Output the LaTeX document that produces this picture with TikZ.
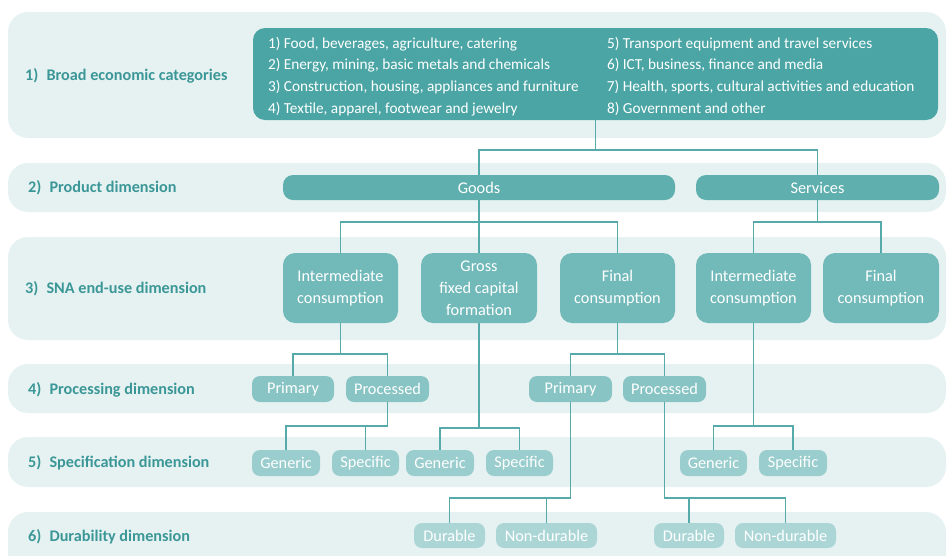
\documentclass[tikz,border=0pt]{standalone}
\usepackage{fontspec}
\setmainfont{Carlito}
\usepackage{xcolor}

\definecolor{bandbg}{HTML}{E6F2F2}
\definecolor{labtext}{HTML}{3B9797}
\definecolor{linecol}{HTML}{56AAAA}
\definecolor{tealA}{HTML}{4BA5A5}
\definecolor{tealB}{HTML}{5FAFAF}
\definecolor{tealC}{HTML}{72B9B9}
\definecolor{tealD}{HTML}{88C4C4}
\definecolor{tealE}{HTML}{9ACDCD}
\definecolor{tealF}{HTML}{ACD6D6}

% parent, y of the bar, list of children
\newcommand{\treefork}[3]{%
  \foreach \kid in {#3}
    \draw[edge] (#1.south) |- (\kid.north |- 0,#2) -- (\kid.north);}

\begin{document}
\begin{tikzpicture}[x=1pt,y=-1pt]
        \tikzset{band/.style={fill=bandbg, rounded corners=20pt},
            dimlabel/.style={anchor=west, inner sep=0pt, text=labtext, font=\fontsize{16.2}{18}\selectfont\bfseries},
            box/.style={text=white, inner sep=0pt, align=center,
                font=\fontsize{16.3}{21.8}\selectfont},
            top/.style={box, fill=tealA, rounded corners=12pt, minimum width=685pt, minimum height=92pt,
                font=\fontsize{15.3}{21.7}\selectfont},
            kind/.style={box, fill=tealB, rounded corners=10pt, minimum height=25pt},
            enduse/.style={box, fill=tealC, rounded corners=12pt, minimum height=70pt},
            proc/.style={box, fill=tealD, rounded corners=8pt, minimum height=26pt},
            spec/.style={box, fill=tealE, rounded corners=8pt, minimum height=26pt},
            dur/.style={box, fill=tealF, rounded corners=8pt, minimum height=25pt},
            edge/.style={draw=linecol, line width=1.1pt}}
        \useasboundingbox (0,0) rectangle (947,555);
        \clip (0,0) rectangle (947,555);

        % background rows
        \fill[band] (8,12) rectangle (946,138);
        \fill[band] (8,163) rectangle (946,212);
        \fill[band] (8,237) rectangle (946,340);
        \fill[band] (8,364) rectangle (946,413);
        \fill[band] (8,437) rectangle (946,487);
        \fill[band] (8,512) rectangle (946,580);

        \node[dimlabel] (l1) at (25,76) {1)\enspace Broad economic categories};
        \node[dimlabel] (l2) at (28,188) {2)\enspace Product dimension};
        \node[dimlabel] (l3) at (25,289) {3)\enspace SNA end-use dimension};
        \node[dimlabel] (l4) at (28,390) {4)\enspace Processing dimension};
        \node[dimlabel] (l5) at (28,463) {5)\enspace Specification dimension};
        \node[dimlabel] (l6) at (28,537) {6)\enspace Durability dimension};

        % level 1
        \node[top] (bec) at (595.5,74) {%
            \begin{tabular}{@{}p{339pt}@{}p{330pt}@{\hspace{-14pt}}}
            \rule{0pt}{20pt}1) Food, beverages, agriculture, catering & 5) Transport equipment and travel services\\
            2) Energy, mining, basic metals and chemicals & 6) ICT, business, finance and media\\
            3) Construction, housing, appliances and furniture & 7) Health, sports, cultural activities and education\\
            4) Textile, apparel, footwear and jewelry & 8) Government and other
            \end{tabular}};

        % level 2
        \node[kind, minimum width=392pt] (goods) at (479,187.5) {Goods};
        \node[kind, minimum width=243pt] (services) at (817.5,187.5) {Services};

        % level 3
        \node[enduse, minimum width=115pt] (ic) at (340.5,288) {Intermediate\\consumption};
        \node[enduse, minimum width=116pt] (gfcf) at (479,288) {Gross\\fixed capital\\formation};
        \node[enduse, minimum width=115pt] (fc) at (617.5,288) {Final\\consumption};
        \node[enduse, minimum width=115pt] (sic) at (753.5,288) {Intermediate\\consumption};
        \node[enduse, minimum width=116pt] (sfc) at (881,288) {Final\\consumption};

        % level 4
        \node[proc, minimum width=82pt] (icprim) at (293,389) {Primary};
        \node[proc, minimum width=83pt] (icproc) at (387.5,389) {Processed};
        \node[proc, minimum width=83pt] (fcprim) at (570.5,389) {Primary};
        \node[proc, minimum width=83pt] (fcproc) at (664.5,389) {Processed};

        % level 5
        \node[spec, minimum width=68pt] (icgen) at (286,463) {Generic};
        \node[spec, minimum width=67pt] (icspec) at (365.5,463) {Specific};
        \node[spec, minimum width=68pt] (gfgen) at (440,463) {Generic};
        \node[spec, minimum width=67pt] (gfspec) at (519.5,463) {Specific};
        \node[spec, minimum width=67pt] (sicgen) at (713.5,463) {Generic};
        \node[spec, minimum width=68pt] (sicspec) at (793,463) {Specific};

        % level 6
        \node[dur, minimum width=71pt] (primdur) at (449.5,535.5) {Durable};
        \node[dur, minimum width=101pt] (primnon) at (546.5,535.5) {Non-durable};
        \node[dur, minimum width=70pt] (procdur) at (689,535.5) {Durable};
        \node[dur, minimum width=101pt] (procnon) at (785.5,535.5) {Non-durable};

        \treefork{bec}{150}{goods,services}
        \treefork{goods}{222}{ic,gfcf,fc}
        \treefork{services}{222}{sic,sfc}
        \treefork{ic}{354}{icprim,icproc}
        \treefork{fc}{354}{fcprim,fcproc}
        \treefork{icproc}{426}{icgen,icspec}
        \treefork{gfcf}{428}{gfgen,gfspec}
        \treefork{sic}{426}{sicgen,sicspec}
        \treefork{fcprim}{498}{primdur,primnon}
        \treefork{fcproc}{498}{procdur,procnon}
    \end{tikzpicture}
\end{document}
